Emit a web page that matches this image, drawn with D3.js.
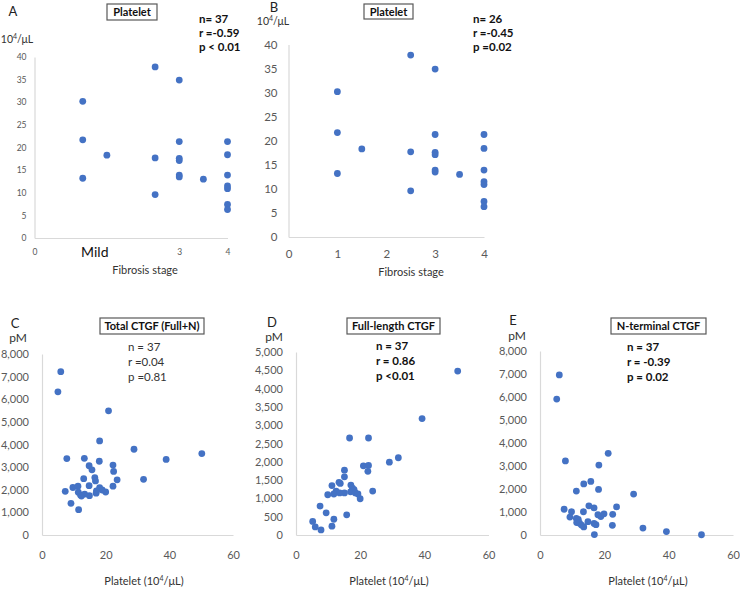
<!DOCTYPE html>
<html lang="en">
<head>
<meta charset="UTF-8"/>
<title>Platelet and CTGF scatter plots</title>
<script src="https://d3js.org/d3.v7.min.js"></script>
<style>
    body { margin: 0; background: #fff; }
    svg { display: block; font-family: Lato, "Open Sans", sans-serif; }
</style>
</head>
<body>
<script>
    // Fibrosis stage vs platelet count (panels A and B share the same points)
    var stagePlatelet = [
        [1, 30.2], [1, 21.7], [1, 13.2],
        [1.5, 18.3],
        [2.5, 37.8], [2.5, 17.7], [2.5, 9.6],
        [3, 34.9], [3, 21.3], [3, 17.6], [3, 17.1], [3, 13.9], [3, 13.5],
        [3.5, 13.0],
        [4, 21.3], [4, 18.4], [4, 13.9], [4, 11.5], [4, 10.9], [4, 7.4], [4, 6.3]
    ];

    // Platelet (10^4/uL) vs total CTGF (pM)
    var totalCtgf = [
        [5.9, 7220], [5.0, 6330], [20.9, 5490], [18.1, 4160], [28.9, 3790],
        [50.2, 3600], [39.0, 3340], [7.8, 3380], [13.3, 3390], [18.0, 3260],
        [22.3, 3090], [14.8, 3060], [15.7, 2880], [22.5, 2810], [16.6, 2540],
        [16.8, 2390], [13.1, 2490], [23.6, 2440], [31.9, 2460], [7.3, 1930],
        [9.7, 2100], [11.3, 2160], [14.8, 2180], [18.1, 2090], [22.3, 2160],
        [18.9, 1990], [20.0, 1900], [17.0, 1850], [11.4, 1890], [12.1, 1770],
        [13.4, 1810], [14.9, 1740], [9.1, 1400], [11.5, 1120], [12.4, 1720],
        [17.1, 1950]
    ];

    // Platelet vs full-length CTGF (pM)
    var fullCtgf = [
        [50.4, 4480], [39.3, 3180], [16.7, 2650], [22.6, 2650], [31.9, 2110],
        [29.1, 1990], [21.0, 1890], [22.6, 1900], [22.4, 1740], [15.1, 1770],
        [15.1, 1590], [13.4, 1440], [13.8, 1410], [11.2, 1350], [17.1, 1365],
        [17.6, 1280], [18.1, 1240], [23.9, 1200], [12.5, 1200], [17.0, 1180],
        [15.1, 1150], [13.6, 1150], [11.8, 1120], [18.5, 1150], [19.3, 1120],
        [9.9, 1100], [20.0, 990], [7.5, 790], [9.4, 605], [15.8, 550],
        [11.8, 430], [5.2, 370], [6.0, 220], [7.8, 140], [11.2, 240]
    ];

    // Platelet vs N-terminal CTGF (pM)
    var nTermCtgf = [
        [6.0, 6960], [5.2, 5910], [21.2, 3550], [7.9, 3220], [18.3, 3040],
        [15.8, 2330], [13.6, 2220], [18.2, 1980], [11.3, 1910], [29.1, 1780],
        [7.5, 1120], [9.8, 1010], [13.5, 1010], [15.2, 1270], [16.8, 1180],
        [23.8, 1220], [22.6, 900], [18.0, 880], [18.9, 800], [19.9, 920],
        [9.3, 780], [11.3, 720], [11.9, 680], [11.4, 540], [12.3, 510],
        [13.6, 350], [12.9, 430], [14.9, 580], [16.8, 500], [17.4, 450],
        [22.5, 420], [16.9, 20], [32.0, 300], [39.3, 150], [50.2, 10]
    ];

    // Tick values
    var stageTicksA = [0, 3, 4];
    var stageTicksB = [0, 1, 2, 3, 4];
    var plateletTicksY = [0, 5, 10, 15, 20, 25, 30, 35, 40];
    var plateletTicksX = [0, 20, 40, 60];
    var totalTicks = [0, 1000, 2000, 3000, 4000, 5000, 6000, 7000, 8000];
    var fullTicks = [0, 500, 1000, 1500, 2000, 2500, 3000, 3500, 4000, 4500, 5000];

    // Stats text
    var statsA = ["n= 37", "r =-0.59", "p < 0.01"];
    var statsB = ["n= 26", "r =-0.45", "p =0.02"];
    var statsC = ["n = 37", "r =0.04", "p =0.81"];
    var statsD = ["n = 37", "r = 0.86", "p <0.01"];
    var statsE = ["n = 37", "r = -0.39", "p = 0.02"];

    var w = 740, h = 613;
    var dotColour = "#4472C4";
    var axisColour = "#d9d9d9";
    var labelColour = "#595959";

    var svg = d3.select("body")
        .append("svg")
        .attr("width", w)
        .attr("height", h);

    function drawPanel(o) {
        var xScale = d3.scaleLinear().domain(o.xDomain).range([o.x0, o.x1]);
        var yScale = d3.scaleLinear().domain(o.yDomain).range([o.y0, o.y1]);
        var g = svg.append("g");

        var fmt = d3.format(",");

        // y axis
        var yAxis = d3.axisLeft(yScale)
            .tickValues(o.yTicks)
            .tickSize(0)
            .tickSizeOuter(0)
            .tickPadding(o.yPad)
            .tickFormat(fmt);
        var ya = g.append("g")
            .attr("transform", `translate(${o.x0},0)`)
            .call(yAxis);
        ya.select(".domain").attr("stroke", axisColour).attr("stroke-width", 1.2);
        ya.selectAll("text")
            .attr("fill", labelColour)
            .style("font-size", o.tickSize + "px")
            .style("font-family", "Lato, sans-serif");

        // x axis
        var xAxis = d3.axisBottom(xScale)
            .tickValues(o.xTicks)
            .tickSize(0)
            .tickSizeOuter(0)
            .tickPadding(o.xPad)
            .tickFormat(fmt);
        var xa = g.append("g")
            .attr("transform", `translate(0,${o.y0})`)
            .call(xAxis);
        xa.select(".domain").attr("stroke", axisColour).attr("stroke-width", 1.2);
        xa.selectAll("text")
            .attr("fill", labelColour)
            .style("font-size", o.tickSize + "px")
            .style("font-family", "Lato, sans-serif");

        // points
        g.selectAll("circle")
            .data(o.data)
            .enter()
            .append("circle")
            .attr("cx", d => xScale(d[0]))
            .attr("cy", d => yScale(d[1]))
            .attr("r", 3.4)
            .attr("fill", dotColour);

        // panel letter
        g.append("text")
            .attr("x", o.letterX)
            .attr("y", o.letterY)
            .attr("text-anchor", "middle")
            .style("font-size", "13px")
            .attr("fill", "#222")
            .text(o.letter);

        // unit label
        var u = g.append("text")
            .attr("x", o.unitX)
            .attr("y", o.unitY)
            .attr("text-anchor", "middle")
            .style("font-size", o.unitSize + "px")
            .attr("fill", "#333");
        if (o.unitSup) {
            u.append("tspan").text("10");
            u.append("tspan").attr("dy", -4).style("font-size", "7px").text("4");
            u.append("tspan").attr("dy", 4).text("/μL");
        } else {
            u.text(o.unit);
        }

        // title box
        g.append("rect")
            .attr("x", o.boxX)
            .attr("y", o.boxY)
            .attr("width", o.boxW)
            .attr("height", o.boxH)
            .attr("fill", "#fff")
            .attr("stroke", "#595959")
            .attr("stroke-width", 1.2);
        g.append("text")
            .attr("x", o.boxX + o.boxW / 2)
            .attr("y", o.boxY + o.boxH / 2 + 4)
            .attr("text-anchor", "middle")
            .style("font-size", "11px")
            .style("font-weight", "bold")
            .attr("fill", "#111")
            .text(o.title);

        // stats
        g.selectAll("text.stat")
            .data(o.stats)
            .enter()
            .append("text")
            .attr("class", "stat")
            .attr("x", o.statX)
            .attr("y", (d, i) => o.statY + i * o.statGap)
            .style("font-size", "11.5px")
            .style("font-weight", o.statBold ? "bold" : "normal")
            .attr("fill", o.statBold ? "#111" : "#333")
            .text(d => d);

        // x axis title
        var t = g.append("text")
            .attr("x", o.xTitleX)
            .attr("y", o.xTitleY)
            .attr("text-anchor", "middle")
            .style("font-size", "11px")
            .attr("fill", "#333");
        if (o.xTitleSup) {
            t.append("tspan").text("Platelet (10");
            t.append("tspan").attr("dy", -4).style("font-size", "7px").text("4");
            t.append("tspan").attr("dy", 4).text("/μL)");
        } else {
            t.text(o.xTitle);
        }

        return { x: xScale, y: yScale, g: g };
    }

    // Panel A
    var pA = drawPanel({
        data: stagePlatelet,
        xDomain: [0, 4], yDomain: [0, 40],
        x0: 34.5, x1: 227.5, y0: 238, y1: 57,
        xTicks: stageTicksA, yTicks: plateletTicksY,
        tickSize: 8.5, yPad: 8, xPad: 11,
        letter: "A", letterX: 13, letterY: 16,
        unitSup: true, unitX: 17, unitY: 43, unitSize: 10.5,
        title: "Platelet", boxX: 107, boxY: 4, boxW: 50, boxH: 16,
        stats: statsA, statX: 199, statY: 23, statGap: 14, statBold: true,
        xTitle: "Fibrosis stage", xTitleX: 145, xTitleY: 274
    });
    pA.g.append("text")
        .attr("x", pA.x(1.25))
        .attr("y", 257)
        .attr("text-anchor", "middle")
        .style("font-size", "14px")
        .attr("fill", "#111")
        .text("Mild");

    // Panel B
    drawPanel({
        data: stagePlatelet,
        xDomain: [0, 4], yDomain: [0, 40],
        x0: 288.5, x1: 484, y0: 237, y1: 44.5,
        xTicks: stageTicksB, yTicks: plateletTicksY,
        tickSize: 11.5, yPad: 11, xPad: 13,
        letter: "B", letterX: 274, letterY: 11.5,
        unitSup: true, unitX: 273, unitY: 25, unitSize: 10.5,
        title: "Platelet", boxX: 364, boxY: 4, boxW: 49, boxH: 15,
        stats: statsB, statX: 473, statY: 23, statGap: 14, statBold: true,
        xTitle: "Fibrosis stage", xTitleX: 411, xTitleY: 276
    });

    // Panel C
    drawPanel({
        data: totalCtgf,
        xDomain: [0, 60], yDomain: [0, 8000],
        x0: 42, x1: 233, y0: 535, y1: 354,
        xTicks: plateletTicksX, yTicks: totalTicks,
        tickSize: 11, yPad: 13, xPad: 16,
        letter: "C", letterX: 15, letterY: 328,
        unit: "pM", unitX: 18, unitY: 342, unitSize: 12,
        title: "Total CTGF (Full+N)", boxX: 100, boxY: 318, boxW: 104, boxH: 16,
        stats: statsC, statX: 128, statY: 351, statGap: 15, statBold: false,
        xTitleSup: true, xTitleX: 144, xTitleY: 585
    });

    // Panel D
    drawPanel({
        data: fullCtgf,
        xDomain: [0, 60], yDomain: [0, 5000],
        x0: 296, x1: 488.5, y0: 535, y1: 352,
        xTicks: plateletTicksX, yTicks: fullTicks,
        tickSize: 11, yPad: 13, xPad: 16,
        letter: "D", letterX: 272, letterY: 327,
        unit: "pM", unitX: 274, unitY: 341, unitSize: 12,
        title: "Full-length CTGF", boxX: 347, boxY: 318, boxW: 93, boxH: 16,
        stats: statsD, statX: 376, statY: 350, statGap: 15, statBold: true,
        xTitleSup: true, xTitleX: 389, xTitleY: 585
    });

    // Panel E
    drawPanel({
        data: nTermCtgf,
        xDomain: [0, 60], yDomain: [0, 8000],
        x0: 540, x1: 733, y0: 535, y1: 351,
        xTicks: plateletTicksX, yTicks: totalTicks,
        tickSize: 11, yPad: 13, xPad: 16,
        letter: "E", letterX: 513, letterY: 325,
        unit: "pM", unitX: 517, unitY: 340, unitSize: 12,
        title: "N-terminal CTGF", boxX: 611, boxY: 318, boxW: 95, boxH: 16,
        stats: statsE, statX: 627, statY: 351, statGap: 15, statBold: true,
        xTitleSup: true, xTitleX: 648, xTitleY: 585
    });
</script>
</body>
</html>
